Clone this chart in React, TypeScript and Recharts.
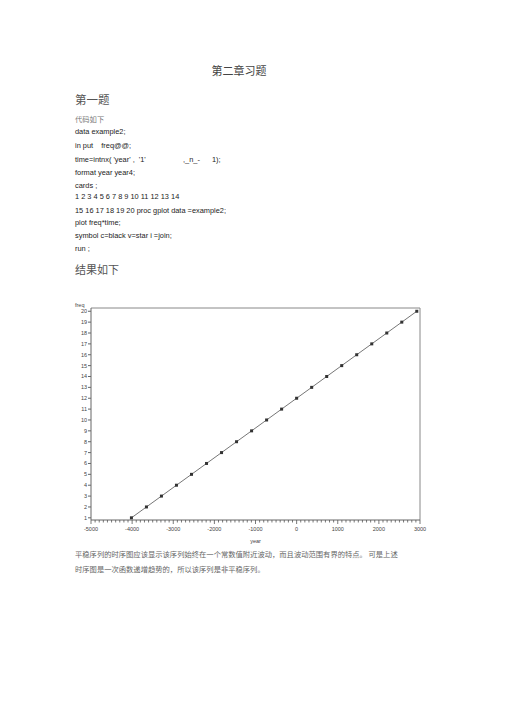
import { LineChart, Line, XAxis, YAxis, Label, ReferenceLine } from "recharts";

// SAS date values (days since 1960-01-01) for Jan 1 of 1949..1968
const years = [
  -4017, -3652, -3287, -2922, -2556, -2191, -1826, -1461, -1095, -730,
  -365, 0, 366, 731, 1096, 1461, 1827, 2192, 2557, 2922,
];
const freq = [1, 2, 3, 4, 5, 6, 7, 8, 9, 10, 11, 12, 13, 14, 15, 16, 17, 18, 19, 20];
const majorXTicks = [-5000, -4000, -3000, -2000, -1000, 0, 1000, 2000, 3000];
const yTicks = [1, 2, 3, 4, 5, 6, 7, 8, 9, 10, 11, 12, 13, 14, 15, 16, 17, 18, 19, 20];

const codeLines = [
  "data example2;",
  "in put    freq@@;",
  "",
  "format year year4;",
  "cards ;",
  "1 2 3 4 5 6 7 8 9 10 11 12 13 14",
  "15 16 17 18 19 20 proc gplot data =example2;",
  "plot freq*time;",
  "symbol c=black v=star i =join;",
  "run ;",
];
const codeY = [132, 146, 160, 173, 186, 197, 211, 223, 236, 249];

const data = years.map((t, i) => ({ time: t, freq: freq[i] }));

// minor ticks every 100 between the labelled ones
const allXTicks: number[] = [];
for (let v = majorXTicks[0]; v <= majorXTicks[majorXTicks.length - 1]; v += 100) allXTicks.push(v);

const CJK = '"Noto Sans CJK SC", "Noto Sans", sans-serif';
const SANS = '"Liberation Sans", Arial, sans-serif';

function T({ x, y, size, children, color = "#222", font = SANS, anchor = "left" }: any) {
  const style: any = {
    position: "absolute",
    top: y - size * 0.6,
    left: x,
    fontSize: size,
    lineHeight: "1.2",
    color,
    fontFamily: font,
    whiteSpace: "pre",
  };
  if (anchor === "center") style.transform = "translateX(-50%)";
  return <div style={style}>{children}</div>;
}

function XTick({ x, y, payload }: any) {
  const major = payload.value % 1000 === 0;
  return (
    <g>
      <line x1={x} x2={x} y1={y} y2={y + (major ? 4 : 2.5)} stroke="#555" strokeWidth={0.8} />
      {major && (
        <text x={x} y={y + 11} textAnchor="middle" fontSize={5.5} fill="#444" fontFamily={SANS}>
          {payload.value}
        </text>
      )}
    </g>
  );
}

function Dot({ cx, cy }: any) {
  return <rect x={cx - 1.5} y={cy - 1.5} width={3} height={3} fill="#333" />;
}

export default function App() {
  return (
    <div style={{ position: "absolute", left: 0, top: 0, width: 505, height: 714, background: "#fff" }}>
      <T x={239} y={71} size={11} color="#444" font={CJK} anchor="center">第二章习题</T>
      <T x={75} y={100} size={11.5} color="#555" font={CJK}>第一题</T>
      <T x={75} y={119} size={7.3} color="#777" font={CJK}>代码如下</T>
      {codeLines.map((l, i) => (
        <T key={i} x={75} y={codeY[i]} size={7.4}>{l}</T>
      ))}
      <T x={75} y={160} size={7.4}>{"time=intnx( 'year' ,  '1'"}</T>
      <T x={183} y={160} size={7.4}>{",_n_-"}</T>
      <T x={212} y={160} size={7.4}>{"1);"}</T>
      <T x={75} y={270} size={11} color="#555" font={CJK}>结果如下</T>

      <div style={{ position: "absolute", left: 0, top: 290 }}>
        <div style={{ position: "absolute", left: 75, top: 12, fontSize: 5.5, color: "#444", fontFamily: SANS }}>freq</div>
        <LineChart width={460} height={270} data={data} margin={{ top: 18, right: 40, left: 71, bottom: 17 }}>
          <XAxis
            dataKey="time"
            type="number"
            domain={[-5000, 3000]}
            ticks={allXTicks}
            interval={0}
            tick={<XTick />}
            tickLine={false}
            tickSize={0}
            tickMargin={0}
            stroke="#666"
            height={23}
            allowDataOverflow
          >
            <Label value="year" position="insideBottom" offset={0} fontSize={5.5} fill="#444" fontFamily={SANS} />
          </XAxis>
          <YAxis
            type="number"
            domain={[0.8, 20.3]}
            ticks={yTicks}
            interval={0}
            width={20}
            tickSize={3}
            tickMargin={1}
            stroke="#666"
            tick={{ fontSize: 5.5, fill: "#444", fontFamily: SANS }}
            allowDataOverflow
          />
          <ReferenceLine y={20.3} stroke="#888" strokeWidth={1} />
          <ReferenceLine x={3000} stroke="#888" strokeWidth={1} />
          <Line
            dataKey="freq"
            stroke="#666"
            strokeWidth={0.9}
            dot={<Dot />}
            isAnimationActive={false}
          />
        </LineChart>
      </div>

      <T x={75} y={554} size={7.3} color="#666" font={CJK}>
        平稳序列的时序图应该显示该序列始终在一个常数值附近波动，而且波动范围有界的特点。 可是上述
      </T>
      <T x={75} y={569} size={7.3} color="#666" font={CJK}>
        时序图是一次函数递增趋势的，所以该序列是非平稳序列。
      </T>
    </div>
  );
}
